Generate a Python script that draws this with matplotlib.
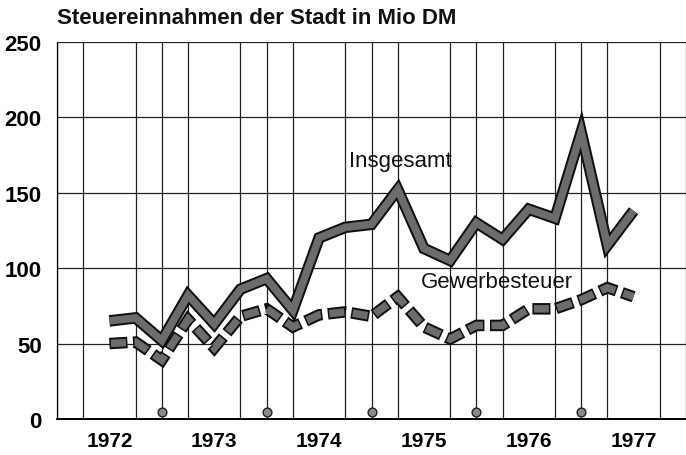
import numpy as np
import matplotlib
matplotlib.use("Agg")
import matplotlib.pyplot as plt

# === DATA (quarterly, in Mio DM) ===
quarters = [1972.0, 1972.25, 1972.5, 1972.75,
            1973.0, 1973.25, 1973.5, 1973.75,
            1974.0, 1974.25, 1974.5, 1974.75,
            1975.0, 1975.25, 1975.5, 1975.75,
            1976.0, 1976.25, 1976.5, 1976.75,
            1977.0]
insgesamt = [65, 67, 52, 82,
             63, 86, 93, 72,
             120, 127, 129, 152,
             113, 105, 130, 119,
             139, 133, 190, 115,
             138]
gewerbesteuer = [50, 51, 39, 66,
                 47, 68, 73, 61,
                 69, 71, 68, 81,
                 61, 53, 62, 62,
                 73, 73, 79, 87,
                 81]
year_labels = ["1972", "1973", "1974", "1975", "1976", "1977"]
year_pos = [1972, 1973, 1974, 1975, 1976, 1977]
mid_year_marks = [1972.5, 1973.5, 1974.5, 1975.5, 1976.5]

# === STYLE ===
plt.rcParams['font.family'] = ['Liberation Sans', 'DejaVu Sans']
plt.rcParams['lines.scale_dashes'] = False

fig = plt.figure(figsize=(6.86, 4.56), dpi=100)
fig.patch.set_facecolor('white')
ax = fig.add_axes([57 / 686, 1 - 420 / 456, 1 - 57 / 686, (420 - 42.7) / 456])

ax.set_xlim(1971.5, 1977.5)
ax.set_ylim(0, 250)

# grid
ax.set_xticks(np.arange(1971.5, 1977.51, 0.25), minor=True)
ax.set_yticks([0, 50, 100, 150, 200, 250])
ax.grid(True, which='minor', axis='x', color='#222222', linewidth=0.9)
ax.grid(True, which='major', axis='y', color='#222222', linewidth=0.9)
ax.set_xticks(year_pos)
ax.set_xticklabels(year_labels)
ax.tick_params(axis='both', which='both', length=0)
ax.tick_params(axis='x', pad=9, labelsize=15)
ax.tick_params(axis='y', pad=11, labelsize=16)
for lab in ax.get_xticklabels() + ax.get_yticklabels():
    lab.set_fontweight('bold')

for s in ['top', 'right']:
    ax.spines[s].set_visible(False)
ax.spines['left'].set_linewidth(0.9)
ax.spines['bottom'].set_linewidth(1.4)

# Insgesamt: black outline, grey fill
ax.plot(quarters, insgesamt, color='#111111', linewidth=8.3,
        solid_joinstyle='miter', solid_capstyle='butt', zorder=4)
ax.plot(quarters, insgesamt, color='#6c6c6c', linewidth=5.4,
        solid_joinstyle='miter', solid_capstyle='butt', zorder=5)

# Gewerbesteuer: thick dashes, outlined
dash, gap = 13, 4
ax.plot(quarters, gewerbesteuer, color='#111111', linewidth=8.3,
        linestyle=(0, (dash, gap)), dash_joinstyle='miter',
        dash_capstyle='butt', zorder=4)
ax.plot(quarters, gewerbesteuer, color='#6c6c6c', linewidth=5.4,
        linestyle=(dash + gap - 1.1, (dash - 2.2, gap + 2.2)),
        dash_joinstyle='miter', dash_capstyle='butt', zorder=5)

# small mid-year markers
ax.scatter(mid_year_marks, [4.5] * len(mid_year_marks), s=40,
           color='#8a8a8a', edgecolor='#222222', linewidth=1.0,
           zorder=6, clip_on=False)

# series labels
ax.text(1974.29, 171, "Insgesamt", fontsize=16, fontweight='normal',
        ha='left', va='center', color='#111111', zorder=7)
ax.text(1974.97, 91, "Gewerbesteuer", fontsize=16, fontweight='normal',
        ha='left', va='center', color='#111111', zorder=7)

# title
fig.text(57 / 686, 1 - 19 / 456, "Steuereinnahmen der Stadt in Mio DM",
         fontsize=16, fontweight='bold', ha='left', va='center',
         color='#111111')

fig.savefig("out.png", dpi=100, facecolor='white')
